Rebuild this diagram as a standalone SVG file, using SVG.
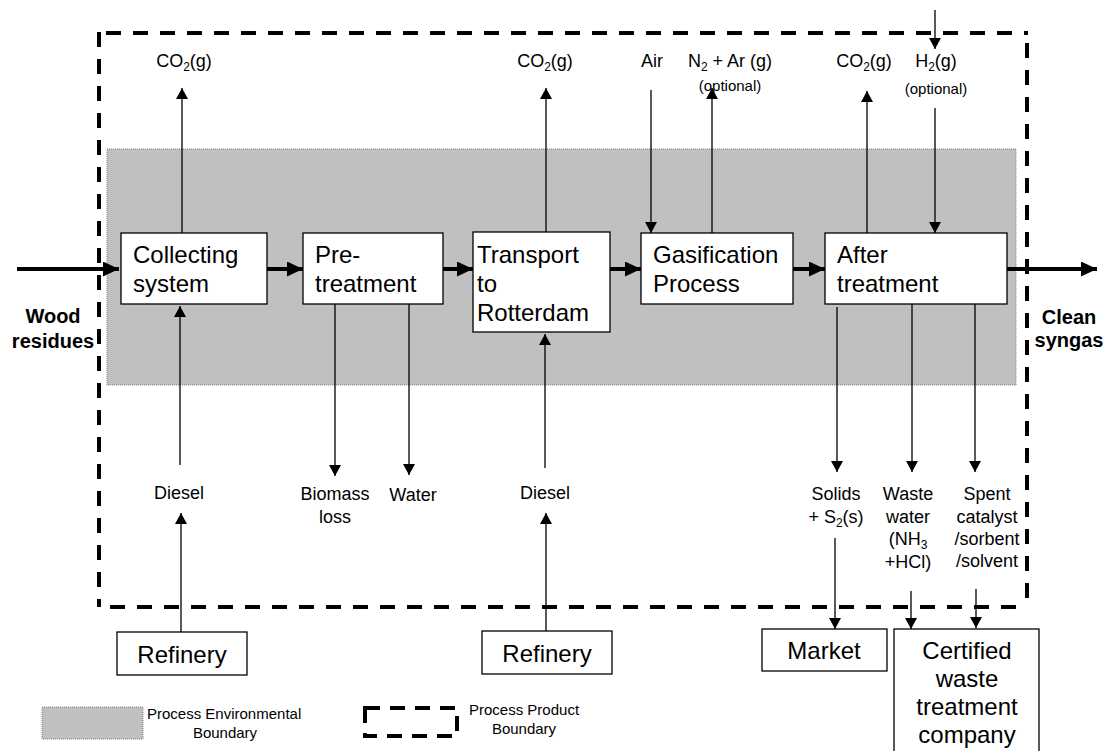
<svg xmlns="http://www.w3.org/2000/svg" width="1109" height="751" viewBox="0 0 1109 751">
<style>
text{font-family:"Liberation Sans",Arial,sans-serif;fill:#000}
.box{fill:#fff;stroke:#000;stroke-width:1.3}
.bt{font-size:24px}
.lb{font-size:18px}
.op{font-size:15px}
.bold{font-size:20px;font-weight:bold}
.thin{stroke:#000;stroke-width:1.3;fill:none}
.thick{stroke:#000;stroke-width:4;fill:none}
.dash{stroke:#000;stroke-width:4;fill:none;stroke-dasharray:15 12}
.env{fill:#c0c0c0;stroke:#808080;stroke-width:1;stroke-dasharray:1 1}
</style>
<defs>
<marker id="ah" markerUnits="userSpaceOnUse" markerWidth="12" markerHeight="12" refX="11" refY="6" orient="auto"><path d="M0,0 L11,6 L0,12 z" fill="#000"/></marker>
<marker id="ahb" markerUnits="userSpaceOnUse" markerWidth="16" markerHeight="15" refX="16" refY="7.5" orient="auto"><path d="M0,0 L16,7.5 L0,15 z" fill="#000"/></marker>
</defs>
<rect x="0" y="0" width="1109" height="751" fill="#fff"/>

<g id="environmental-boundary">
<rect class="env" x="107" y="149" width="909" height="236"/>
</g>

<g id="product-boundary">
<path class="dash" d="M106,33 H1028"/>
<path class="dash" d="M99,32 V607"/>
<path class="dash" d="M1027,43 V607"/>
<path class="dash" d="M110,607 H1028"/>
</g>

<g id="connectors">
<line class="thick" x1="17" y1="269" x2="119" y2="269" marker-end="url(#ahb)"/>
<line class="thick" x1="267" y1="269" x2="303" y2="269" marker-end="url(#ahb)"/>
<line class="thick" x1="443" y1="269" x2="473" y2="269" marker-end="url(#ahb)"/>
<line class="thick" x1="610" y1="269" x2="641" y2="269" marker-end="url(#ahb)"/>
<line class="thick" x1="793" y1="269" x2="825" y2="269" marker-end="url(#ahb)"/>
<line class="thick" x1="1007" y1="269" x2="1097" y2="269" marker-end="url(#ahb)"/>
<line class="thin" x1="182" y1="233" x2="182" y2="88" marker-end="url(#ah)"/>
<line class="thin" x1="180" y1="465" x2="180" y2="306" marker-end="url(#ah)"/>
<line class="thin" x1="181" y1="632" x2="181" y2="513" marker-end="url(#ah)"/>
<line class="thin" x1="335" y1="304" x2="335" y2="476" marker-end="url(#ah)"/>
<line class="thin" x1="409" y1="304" x2="409" y2="475" marker-end="url(#ah)"/>
<line class="thin" x1="546" y1="232" x2="546" y2="88" marker-end="url(#ah)"/>
<line class="thin" x1="545" y1="468" x2="545" y2="334" marker-end="url(#ah)"/>
<line class="thin" x1="546" y1="631" x2="546" y2="513" marker-end="url(#ah)"/>
<line class="thin" x1="651" y1="90" x2="651" y2="233" marker-end="url(#ah)"/>
<line class="thin" x1="712" y1="233" x2="712" y2="88" marker-end="url(#ah)"/>
<line class="thin" x1="867" y1="233" x2="867" y2="91" marker-end="url(#ah)"/>
<line class="thin" x1="935" y1="10" x2="935" y2="49" marker-end="url(#ah)"/>
<line class="thin" x1="935" y1="108" x2="935" y2="233" marker-end="url(#ah)"/>
<line class="thin" x1="837" y1="307" x2="837" y2="472" marker-end="url(#ah)"/>
<line class="thin" x1="912" y1="304" x2="912" y2="472" marker-end="url(#ah)"/>
<line class="thin" x1="975" y1="304" x2="975" y2="472" marker-end="url(#ah)"/>
<line class="thin" x1="835" y1="538" x2="835" y2="629" marker-end="url(#ah)"/>
<line class="thin" x1="911" y1="591" x2="911" y2="629" marker-end="url(#ah)"/>
<line class="thin" x1="976" y1="589" x2="976" y2="628" marker-end="url(#ah)"/>
</g>

<g id="collecting-system">
<rect class="box" x="121" y="233" width="146" height="71"/>
<text class="bt" x="133" y="263">Collecting</text>
<text class="bt" x="133" y="292">system</text>
</g>
<g id="pre-treatment">
<rect class="box" x="303" y="233" width="140" height="71"/>
<text class="bt" x="315" y="263">Pre-</text>
<text class="bt" x="315" y="292">treatment</text>
</g>
<g id="transport">
<rect class="box" x="473" y="232" width="137" height="100"/>
<text class="bt" x="477" y="263">Transport</text>
<text class="bt" x="477" y="292">to</text>
<text class="bt" x="477" y="321">Rotterdam</text>
</g>
<g id="gasification">
<rect class="box" x="641" y="233" width="152" height="71"/>
<text class="bt" x="653" y="263">Gasification</text>
<text class="bt" x="653" y="292">Process</text>
</g>
<g id="after-treatment">
<rect class="box" x="825" y="233" width="182" height="71"/>
<text class="bt" x="837" y="263">After</text>
<text class="bt" x="837" y="292">treatment</text>
</g>

<g id="wood-residues">
<text class="bold" x="53" y="323" text-anchor="middle">Wood</text>
<text class="bold" x="53" y="348" text-anchor="middle">residues</text>
</g>
<g id="clean-syngas">
<text class="bold" x="1069" y="324" text-anchor="middle">Clean</text>
<text class="bold" x="1069" y="347" text-anchor="middle">syngas</text>
</g>

<g id="co2-collecting">
<text class="lb" x="184" y="67" text-anchor="middle">CO<tspan font-size="12" dy="4">2</tspan><tspan dy="-4">(g)</tspan></text>
</g>
<g id="co2-transport">
<text class="lb" x="545" y="67" text-anchor="middle">CO<tspan font-size="12" dy="4">2</tspan><tspan dy="-4">(g)</tspan></text>
</g>
<g id="air">
<text class="lb" x="652" y="67" text-anchor="middle">Air</text>
</g>
<g id="n2-ar">
<text class="lb" x="730" y="67" text-anchor="middle">N<tspan font-size="12" dy="4">2</tspan><tspan dy="-4"> + Ar (g)</tspan></text>
<text class="op" x="730" y="91" text-anchor="middle">(optional)</text>
</g>
<g id="co2-after">
<text class="lb" x="864" y="67" text-anchor="middle">CO<tspan font-size="12" dy="4">2</tspan><tspan dy="-4">(g)</tspan></text>
</g>
<g id="h2">
<text class="lb" x="936" y="67" text-anchor="middle">H<tspan font-size="12" dy="4">2</tspan><tspan dy="-4">(g)</tspan></text>
<text class="op" x="936" y="94" text-anchor="middle">(optional)</text>
</g>

<g id="diesel-1">
<text class="lb" x="179" y="499" text-anchor="middle">Diesel</text>
</g>
<g id="biomass-loss">
<text class="lb" x="335" y="500" text-anchor="middle">Biomass</text>
<text class="lb" x="335" y="523" text-anchor="middle">loss</text>
</g>
<g id="water">
<text class="lb" x="413" y="501" text-anchor="middle">Water</text>
</g>
<g id="diesel-2">
<text class="lb" x="545" y="499" text-anchor="middle">Diesel</text>
</g>
<g id="solids">
<text class="lb" x="836" y="500" text-anchor="middle">Solids</text>
<text class="lb" x="836" y="523" text-anchor="middle">+ S<tspan font-size="12" dy="4">2</tspan><tspan dy="-4">(s)</tspan></text>
</g>
<g id="waste-water">
<text class="lb" x="908" y="500" text-anchor="middle">Waste</text>
<text class="lb" x="908" y="523" text-anchor="middle">water</text>
<text class="lb" x="908" y="545" text-anchor="middle">(NH<tspan font-size="12" dy="4">3</tspan></text>
<text class="lb" x="908" y="568" text-anchor="middle">+HCl)</text>
</g>
<g id="spent-catalyst">
<text class="lb" x="987" y="500" text-anchor="middle">Spent</text>
<text class="lb" x="987" y="523" text-anchor="middle">catalyst</text>
<text class="lb" x="987" y="545" text-anchor="middle">/sorbent</text>
<text class="lb" x="987" y="567" text-anchor="middle">/solvent</text>
</g>

<g id="refinery-1">
<rect class="box" x="117" y="632" width="130" height="43"/>
<text class="bt" x="182" y="663" text-anchor="middle">Refinery</text>
</g>
<g id="refinery-2">
<rect class="box" x="482" y="631" width="130" height="43"/>
<text class="bt" x="547" y="662" text-anchor="middle">Refinery</text>
</g>
<g id="market">
<rect class="box" x="762" y="629" width="125" height="42"/>
<text class="bt" x="824" y="659" text-anchor="middle">Market</text>
</g>
<g id="certified-waste">
<rect class="box" x="894" y="629" width="145" height="130"/>
<text class="bt" x="967" y="659" text-anchor="middle">Certified</text>
<text class="bt" x="967" y="687" text-anchor="middle">waste</text>
<text class="bt" x="967" y="715" text-anchor="middle">treatment</text>
<text class="bt" x="967" y="743" text-anchor="middle">company</text>
</g>

<g id="legend">
<rect class="env" x="42" y="707" width="101" height="32"/>
<text class="op" x="147" y="719">Process Environmental</text>
<text class="op" x="225" y="738" text-anchor="middle">Boundary</text>
<rect class="dash" x="365" y="708" width="92" height="28" style="stroke-dasharray:15 10"/>
<text class="op" x="469" y="715">Process Product</text>
<text class="op" x="524" y="734" text-anchor="middle">Boundary</text>
</g>
</svg>
